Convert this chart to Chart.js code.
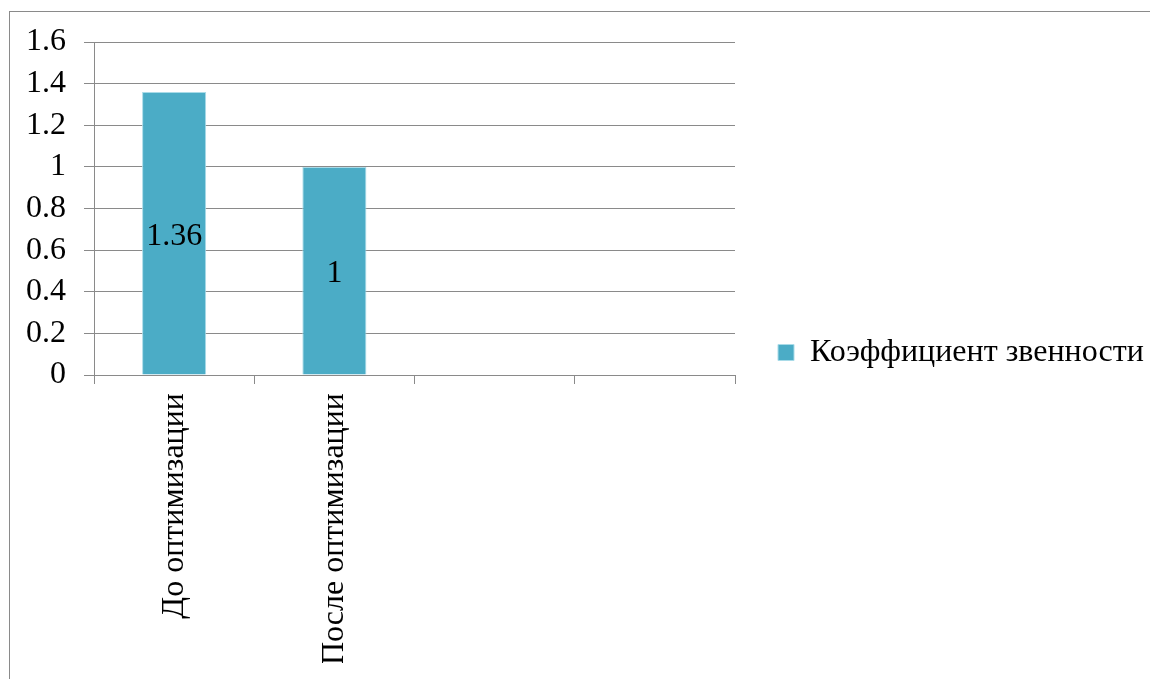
<!DOCTYPE html>
<html>
<head>
<meta charset="utf-8">
<script src="https://cdn.jsdelivr.net/npm/chart.js@4/dist/chart.umd.min.js"></script>
<style>
  body { margin: 0; background: #fff; }
  canvas { display: block; }
</style>
</head>
<body>
<canvas id="chart" width="1150" height="679"></canvas>
<script>
// chart data
const categories = ['До оптимизации', 'После оптимизации', '', ''];
const seriesName = 'Коэффициент звенности';
const seriesValues = [1.36, 1, null, null];
const yMin = 0;
const yMax = 1.6;
const yStep = 0.2;

const FONT = '"Liberation Serif", Tinos, "DejaVu Serif", serif';
const SIZE = 32;
const GRID = '#8a8a8a';

Chart.defaults.font.family = FONT;
Chart.defaults.font.size = SIZE;
Chart.defaults.color = '#000';

// outer frame of the chart
const framePlugin = {
  id: 'frame',
  beforeDraw(chart) {
    const ctx = chart.ctx;
    ctx.save();
    ctx.strokeStyle = '#8a8a8a';
    ctx.lineWidth = 1;
    ctx.strokeRect(9.5, 11.5, 1300, 800);
    ctx.restore();
  }
};

// value labels in the middle of each bar
const valueLabels = {
  id: 'valueLabels',
  afterDatasetsDraw(chart) {
    const ctx = chart.ctx;
    ctx.save();
    ctx.font = SIZE + 'px ' + FONT;
    ctx.fillStyle = '#000';
    ctx.textAlign = 'center';
    ctx.textBaseline = 'middle';
    chart.data.datasets.forEach((ds, i) => {
      chart.getDatasetMeta(i).data.forEach((bar, j) => {
        const v = ds.data[j];
        if (v === null || v === undefined) return;
        ctx.fillText(String(v), bar.x, (bar.y + bar.base) / 2 + 3);
      });
    });
    ctx.restore();
  }
};

new Chart(document.getElementById('chart'), {
  type: 'bar',
  data: {
    labels: categories,
    datasets: [{
      label: seriesName,
      data: seriesValues,
      backgroundColor: '#4bacc6',
      borderColor: '#a9dbe8',
      borderWidth: 1,
      categoryPercentage: 1,
      barPercentage: 0.4
    }]
  },
  options: {
    responsive: false,
    animation: false,
    layout: { padding: { top: 42, left: 0, right: 0, bottom: 16 } },
    plugins: {
      tooltip: { enabled: false },
      legend: {
        position: 'right',
        align: 'center',
        maxWidth: 415,
        labels: {
          font: { family: FONT, size: SIZE },
          color: '#000',
          boxWidth: 16,
          boxHeight: 16,
          padding: 43
        }
      }
    },
    scales: {
      x: {
        offset: true,
        grid: {
          offset: true,
          drawOnChartArea: false,
          drawTicks: true,
          tickLength: 9,
          color: GRID
        },
        border: { color: GRID },
        ticks: {
          font: { family: FONT, size: SIZE },
          color: '#000',
          minRotation: 90,
          maxRotation: 90,
          padding: 9,
          autoSkip: false
        },
        afterFit(scale) { scale.height = 288; }
      },
      y: {
        min: yMin,
        max: yMax,
        ticks: {
          stepSize: yStep,
          font: { family: FONT, size: SIZE },
          color: '#000',
          padding: 18,
          callback: v => String(Number(v.toFixed(1)))
        },
        grid: { color: GRID, tickLength: 10 },
        border: { color: GRID },
        afterFit(scale) { scale.width = 94; }
      }
    }
  },
  plugins: [framePlugin, valueLabels]
});
</script>
</body>
</html>
